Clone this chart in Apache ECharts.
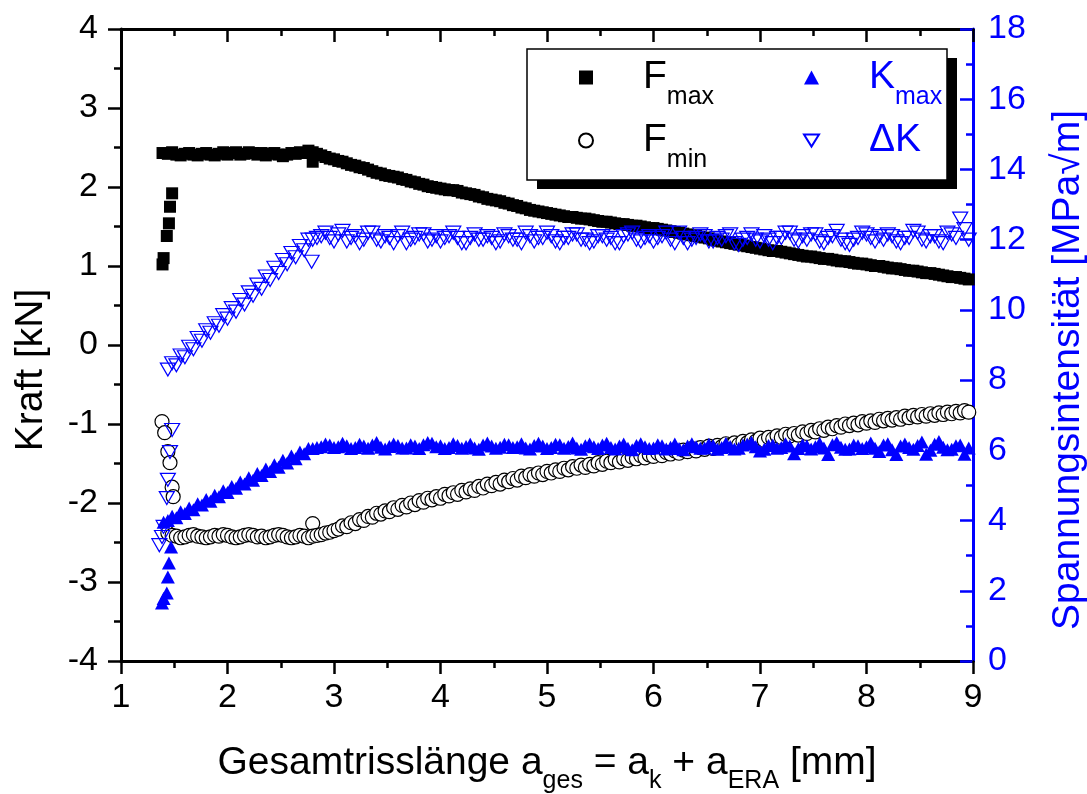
<!DOCTYPE html>
<html>
<head>
<meta charset="utf-8">
<script src="https://cdn.jsdelivr.net/npm/echarts@6/dist/echarts.min.js"></script>
<style>html,body{margin:0;padding:0;background:#fff;overflow:hidden;}#c{width:1087px;height:794px;}</style>
</head>
<body>
<div id="c"></div>
<script>
// ---- data ----
const xMain = [
  1.44,1.48,1.52,1.56,1.60,1.64,1.68,1.72,1.76,1.80,
  1.84,1.88,1.92,1.96,2.00,2.04,2.08,2.12,2.16,2.20,
  2.24,2.28,2.32,2.36,2.40,2.44,2.48,2.52,2.56,2.60,
  2.64,2.68,2.72,2.76,2.80,2.84,2.88,2.92,2.96,3.00,
  3.04,3.08,3.12,3.16,3.20,3.24,3.28,3.32,3.36,3.40,
  3.44,3.48,3.52,3.56,3.60,3.64,3.68,3.72,3.76,3.80,
  3.84,3.88,3.92,3.96,4.00,4.04,4.08,4.12,4.16,4.20,
  4.24,4.28,4.32,4.36,4.40,4.44,4.48,4.52,4.56,4.60,
  4.64,4.68,4.72,4.76,4.80,4.84,4.88,4.92,4.96,5.00,
  5.04,5.08,5.12,5.16,5.20,5.24,5.28,5.32,5.36,5.40,
  5.44,5.48,5.52,5.56,5.60,5.64,5.68,5.72,5.76,5.80,
  5.84,5.88,5.92,5.96,6.00,6.04,6.08,6.12,6.16,6.20,
  6.24,6.28,6.32,6.36,6.40,6.44,6.48,6.52,6.56,6.60,
  6.64,6.68,6.72,6.76,6.80,6.84,6.88,6.92,6.96,7.00,
  7.04,7.08,7.12,7.16,7.20,7.24,7.28,7.32,7.36,7.40,
  7.44,7.48,7.52,7.56,7.60,7.64,7.68,7.72,7.76,7.80,
  7.84,7.88,7.92,7.96,8.00,8.04,8.08,8.12,8.16,8.20,
  8.24,8.28,8.32,8.36,8.40,8.44,8.48,8.52,8.56,8.60,
  8.64,8.68,8.72,8.76,8.80,8.84,8.88,8.92,8.96];

const fmaxMain = [
  2.42,2.44,2.41,2.40,2.42,2.43,2.41,2.40,2.42,2.43,
  2.41,2.40,2.42,2.44,2.41,2.43,2.44,2.41,2.42,2.44,
  2.43,2.41,2.43,2.40,2.42,2.43,2.41,2.39,2.41,2.43,
  2.42,2.44,2.43,2.46,2.44,2.42,2.40,2.38,2.36,2.35,
  2.33,2.32,2.30,2.28,2.27,2.25,2.24,2.22,2.20,2.18,
  2.17,2.15,2.14,2.13,2.12,2.10,2.09,2.07,2.06,2.04,
  2.03,2.01,2.00,1.99,1.98,1.97,1.96,1.96,1.95,1.93,
  1.92,1.91,1.90,1.88,1.87,1.85,1.84,1.83,1.82,1.80,
  1.79,1.77,1.76,1.74,1.73,1.71,1.70,1.69,1.68,1.67,
  1.66,1.65,1.64,1.63,1.62,1.62,1.61,1.60,1.60,1.59,
  1.58,1.57,1.56,1.56,1.55,1.54,1.53,1.53,1.52,1.51,
  1.51,1.50,1.49,1.48,1.48,1.47,1.46,1.45,1.44,1.43,
  1.42,1.41,1.40,1.39,1.38,1.37,1.36,1.35,1.33,1.32,
  1.31,1.30,1.29,1.28,1.27,1.26,1.25,1.24,1.23,1.22,
  1.21,1.20,1.19,1.19,1.18,1.17,1.16,1.15,1.14,1.13,
  1.12,1.12,1.11,1.10,1.09,1.09,1.08,1.07,1.06,1.06,
  1.05,1.04,1.03,1.03,1.02,1.01,1.00,1.00,0.99,0.98,
  0.97,0.97,0.96,0.95,0.94,0.94,0.93,0.92,0.91,0.91,
  0.90,0.89,0.88,0.87,0.86,0.86,0.85,0.84,0.83];
const fmaxExtraX = [1.39,1.40,1.43,1.45,1.46,1.48,1.39,2.80];
const fmaxExtraY = [1.02,1.10,1.38,1.54,1.75,1.92,2.43,2.32];

const fminMain = [
  -2.38,-2.41,-2.42,-2.44,-2.43,-2.41,-2.40,-2.42,-2.43,-2.44,
  -2.43,-2.41,-2.42,-2.40,-2.41,-2.43,-2.44,-2.43,-2.41,-2.40,
  -2.41,-2.43,-2.42,-2.44,-2.43,-2.41,-2.40,-2.41,-2.43,-2.44,
  -2.43,-2.41,-2.42,-2.44,-2.42,-2.41,-2.40,-2.38,-2.37,-2.35,
  -2.33,-2.29,-2.30,-2.25,-2.26,-2.21,-2.22,-2.17,-2.18,-2.13,
  -2.14,-2.10,-2.11,-2.06,-2.08,-2.03,-2.05,-2.00,-2.02,-1.97,
  -1.99,-1.94,-1.96,-1.92,-1.94,-1.89,-1.91,-1.87,-1.89,-1.84,
  -1.86,-1.82,-1.84,-1.79,-1.81,-1.76,-1.78,-1.74,-1.76,-1.71,
  -1.73,-1.69,-1.71,-1.66,-1.68,-1.64,-1.66,-1.62,-1.64,-1.60,
  -1.62,-1.58,-1.60,-1.56,-1.58,-1.54,-1.56,-1.52,-1.55,-1.51,
  -1.53,-1.49,-1.51,-1.47,-1.49,-1.45,-1.48,-1.44,-1.46,-1.42,
  -1.44,-1.40,-1.43,-1.39,-1.41,-1.37,-1.40,-1.36,-1.38,-1.34,
  -1.37,-1.33,-1.35,-1.31,-1.34,-1.30,-1.32,-1.28,-1.31,-1.27,
  -1.29,-1.25,-1.27,-1.24,-1.26,-1.22,-1.24,-1.20,-1.22,-1.18,
  -1.21,-1.17,-1.19,-1.15,-1.17,-1.13,-1.15,-1.12,-1.14,-1.10,
  -1.12,-1.08,-1.10,-1.06,-1.08,-1.04,-1.06,-1.02,-1.04,-1.00,
  -1.02,-0.99,-1.01,-0.97,-0.99,-0.96,-0.98,-0.94,-0.96,-0.93,
  -0.95,-0.92,-0.94,-0.90,-0.92,-0.89,-0.91,-0.88,-0.90,-0.87,
  -0.89,-0.86,-0.88,-0.85,-0.87,-0.84,-0.86,-0.83,-0.85];
const fminExtraX = [1.385,1.41,1.44,1.46,1.48,1.49,2.80];
const fminExtraY = [-0.97,-1.11,-1.35,-1.49,-1.80,-1.92,-2.26];

const kmaxMain = [
  4.00,4.12,4.08,4.25,4.20,4.36,4.31,4.48,4.44,4.60,
  4.55,4.72,4.68,4.85,4.80,4.97,4.92,5.10,5.04,5.22,
  5.15,5.34,5.28,5.47,5.40,5.59,5.52,5.72,5.64,5.84,
  5.76,5.95,5.90,6.05,6.05,6.08,6.10,6.18,6.15,6.08,
  6.10,6.20,6.13,6.05,6.08,6.17,6.12,6.06,6.15,6.22,
  6.09,6.04,6.11,6.18,6.14,6.07,6.07,6.16,6.12,6.05,
  6.16,6.22,6.20,6.10,6.13,6.05,6.08,6.19,6.14,6.06,
  6.11,6.17,6.07,6.03,6.15,6.21,6.12,6.06,6.09,6.17,
  6.16,6.08,6.10,6.19,6.07,6.04,6.14,6.20,6.12,6.05,
  6.08,6.17,6.16,6.06,6.11,6.21,6.07,6.03,6.13,6.18,
  6.10,6.05,6.15,6.20,6.08,6.04,6.12,6.18,6.06,6.02,
  6.14,6.19,6.10,6.05,6.07,6.16,6.13,6.04,6.09,6.18,
  6.05,6.02,6.12,6.19,6.10,6.06,6.07,6.17,6.14,6.03,
  6.08,6.20,6.11,6.04,6.06,6.15,6.18,6.23,6.10,5.98,
  6.03,6.14,6.15,6.06,6.08,6.19,6.12,5.90,6.05,6.16,
  6.13,6.04,6.10,6.20,6.07,5.88,6.16,6.22,6.09,6.03,
  6.04,6.15,6.13,6.05,6.10,6.21,6.06,5.97,6.15,6.19,
  6.02,5.88,6.12,6.18,6.08,6.03,6.14,6.24,5.89,6.00,
  6.17,6.25,6.09,6.02,6.03,6.13,6.15,5.89,6.07];
const kmaxExtraX = [1.385,1.40,1.43,1.44,1.45,1.47,1.40];
const kmaxExtraY = [1.65,1.78,1.94,2.39,2.79,3.25,3.95];

const dkMain = [
  8.30,8.48,8.42,8.70,8.65,8.95,8.88,9.20,9.12,9.42,
  9.35,9.62,9.55,9.85,9.75,10.05,9.95,10.28,10.15,10.50,
  10.40,10.72,10.60,10.95,10.85,11.20,11.05,11.42,11.30,11.62,
  11.50,11.82,11.70,12.00,12.00,12.05,12.10,12.20,12.05,11.95,
  12.15,12.25,11.95,12.05,12.10,11.90,12.00,12.20,12.20,12.00,
  11.95,12.10,12.05,11.90,12.10,12.20,11.90,12.00,12.05,12.15,
  12.15,11.95,12.00,12.10,11.95,12.05,12.10,12.20,12.05,11.90,
  11.90,12.05,12.15,12.00,12.00,12.10,12.05,11.90,11.95,12.15,
  12.10,12.00,12.00,11.90,12.20,12.10,11.95,12.05,12.05,12.20,
  12.10,11.95,11.90,12.05,12.05,12.15,12.15,12.00,12.00,11.90,
  11.95,12.10,12.10,12.00,12.05,11.90,11.90,12.10,12.15,12.20,
  12.00,11.95,12.05,12.10,11.95,12.05,12.10,12.20,12.00,11.90,
  12.20,12.05,11.90,12.00,12.05,12.15,12.10,11.95,11.95,12.05,
  12.00,12.10,12.15,11.90,11.85,12.00,12.05,12.15,12.00,11.95,
  12.10,12.00,11.90,12.05,12.05,12.20,12.20,12.00,11.95,12.10,
  12.00,12.15,12.15,11.95,11.90,12.05,12.10,12.25,12.00,11.90,
  11.85,12.00,12.05,12.20,12.15,12.05,11.95,12.10,12.00,12.15,
  12.10,11.95,11.90,12.05,12.05,12.25,12.20,12.00,11.95,12.10,
  12.10,11.95,11.90,12.20,12.15,12.05,12.60,12.30,12.00];
const dkExtraX = [1.36,1.385,1.40,1.43,1.44,1.46,1.48,2.79];
const dkExtraY = [3.30,3.53,3.82,4.64,5.16,5.95,6.58,11.37];

const xTicks = {min: 1, max: 9, interval: 1};
const yLeftTicks = {min: -4, max: 4, interval: 1};
const yRightTicks = {min: 0, max: 18, interval: 2};

// ---- chart ----
function zip(xs, ys) { return xs.map((x, i) => [x, ys[i]]); }
const FONT = 'Liberation Sans';
const BLUE = '#0000ff';

const chart = echarts.init(document.getElementById('c'), null, {renderer: 'canvas'});

const subRich = (color) => ({
  sp: {width: 45, fontSize: 10, color: color, fontFamily: FONT},
  b: {fontSize: 39, lineHeight: 40, color: color, fontFamily: FONT},
  s: {fontSize: 25, lineHeight: 25, padding: [40, 0, 0, 0], color: color, fontFamily: FONT}
});
const legendText = {
  'Fmax': '{sp| }{b|F}{s|max}',
  'Fmin': '{sp| }{b|F}{s|min}',
  'Kmax': '{sp| }{b|K}{s|max}',
  'ΔK': '{sp| }{b|ΔK}{s| }'
};

const axisCommon = (color) => ({
  axisLine: {show: true, onZero: false, lineStyle: {color: color, width: 3}},
  axisTick: {show: true, length: 13, lineStyle: {color: color, width: 2.5}},
  minorTick: {show: true, splitNumber: 2, length: 7, lineStyle: {color: color, width: 2.5}},
  splitLine: {show: false},
  minorSplitLine: {show: false}
});

const option = {
  animation: false,
  backgroundColor: '#fff',
  grid: {left: 121, right: 114, top: 29, bottom: 133, containLabel: false, outerBoundsMode: 'none'},
  xAxis: [
    Object.assign({
      type: 'value', position: 'bottom', min: xTicks.min, max: xTicks.max, interval: xTicks.interval,
      axisLabel: {fontSize: 34, color: '#000', fontFamily: FONT, margin: 20},
      name: '{m|Gesamtrisslänge a}{s|ges}{m| = a}{s|k}{m| + a}{s|ERA}{m| [mm]}',
      nameLocation: 'middle', nameGap: 82,
      nameTextStyle: {
        fontFamily: FONT, fontSize: 39, color: '#000',
        rich: {
          m: {fontSize: 39, lineHeight: 40, color: '#000', fontFamily: FONT},
          s: {fontSize: 25, lineHeight: 25, padding: [36, 0, 0, 0], color: '#000', fontFamily: FONT}
        }
      }
    }, axisCommon('#000')),
    Object.assign({
      type: 'value', position: 'top', min: xTicks.min, max: xTicks.max, interval: xTicks.interval,
      axisLabel: {show: false}
    }, axisCommon('#000'), {axisTick: {show: true, inside: true, length: 13, lineStyle: {color: '#000', width: 2.5}}})
  ],
  yAxis: [
    Object.assign({
      type: 'value', position: 'left', min: yLeftTicks.min, max: yLeftTicks.max, interval: yLeftTicks.interval,
      axisLabel: {fontSize: 34, color: '#000', fontFamily: FONT, margin: 23},
      name: 'Kraft [kN]', nameLocation: 'middle', nameGap: 70,
      nameTextStyle: {fontFamily: FONT, fontSize: 39, color: '#000', padding: [0, 50, 0, 0]}
    }, axisCommon('#000')),
    Object.assign({
      type: 'value', position: 'right', min: yRightTicks.min, max: yRightTicks.max, interval: yRightTicks.interval,
      axisLabel: {fontSize: 34, color: BLUE, fontFamily: FONT, margin: 15},
      name: 'Spannungsintensität [MPa√m]', nameLocation: 'middle', nameGap: 76,
      nameTextStyle: {fontFamily: FONT, fontSize: 39, color: BLUE, padding: [0, 50, 0, 0]}
    }, axisCommon(BLUE), {axisTick: {show: true, inside: true, length: 13, lineStyle: {color: BLUE, width: 2.5}}})
  ],
  graphic: [
    {type: 'rect', z: 3, shape: {x: 537, y: 58, width: 420, height: 131}, style: {fill: '#000'}},
    {type: 'rect', z: 3, shape: {x: 527, y: 49, width: 420, height: 131}, style: {fill: '#fff', stroke: '#000', lineWidth: 1.5}}
  ],
  legend: [
    {
      data: ['Fmax', 'Fmin'], orient: 'vertical', left: 578, top: 45, padding: 0,
      itemWidth: 14, itemHeight: 14, itemGap: -2, z: 5,
      formatter: (n) => legendText[n],
      textStyle: {color: '#000', fontFamily: FONT, rich: subRich('#000')},
      selectedMode: false
    },
    {
      data: ['Kmax', {name: 'ΔK', icon: 'path://M0,0L16,0L8,13Z'}], orient: 'vertical', left: 803, top: 45, padding: 0,
      itemWidth: 15, itemHeight: 14, itemGap: -2, z: 5,
      formatter: (n) => legendText[n],
      textStyle: {color: BLUE, fontFamily: FONT, rich: subRich(BLUE)},
      selectedMode: false
    }
  ],
  series: [
    {
      name: 'Fmax', type: 'scatter', xAxisIndex: 0, yAxisIndex: 0,
      symbol: 'rect', symbolSize: 12,
      itemStyle: {color: '#000', opacity: 1},
      emphasis: {disabled: true},
      data: zip(fmaxExtraX, fmaxExtraY).concat(zip(xMain, fmaxMain))
    },
    {
      name: 'Fmin', type: 'scatter', xAxisIndex: 0, yAxisIndex: 0,
      symbol: 'circle', symbolSize: 14,
      itemStyle: {color: '#fff', borderColor: '#000', borderWidth: 1.2, opacity: 1},
      emphasis: {disabled: true},
      data: zip(fminExtraX, fminExtraY).concat(zip(xMain, fminMain))
    },
    {
      name: 'Kmax', type: 'scatter', xAxisIndex: 0, yAxisIndex: 1,
      symbol: 'triangle', symbolSize: [14, 13],
      itemStyle: {color: BLUE, opacity: 1},
      emphasis: {disabled: true},
      data: zip(kmaxExtraX, kmaxExtraY).concat(zip(xMain, kmaxMain))
    },
    {
      name: 'ΔK', type: 'scatter', xAxisIndex: 0, yAxisIndex: 1,
      symbol: 'triangle', symbolRotate: 180, symbolSize: [15, 13],
      itemStyle: {color: 'rgba(0,0,0,0)', borderColor: BLUE, borderWidth: 1.2, opacity: 1},
      emphasis: {disabled: true},
      data: zip(dkExtraX, dkExtraY).concat(zip(xMain, dkMain))
    }
  ]
};
chart.setOption(option);
</script>
</body>
</html>
